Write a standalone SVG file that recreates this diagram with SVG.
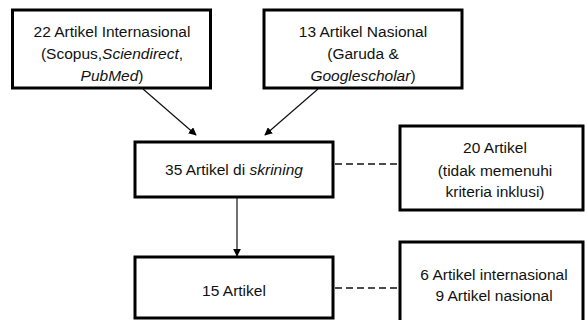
<svg xmlns="http://www.w3.org/2000/svg" width="585" height="320" viewBox="0 0 585 320">
<style>
.box{fill:#fff;stroke:#000;stroke-width:3}
text{font-family:"Liberation Sans",Arial,sans-serif;font-size:15.5px;fill:#111;text-anchor:middle}
.it{font-style:italic}
.ln{stroke:#111;stroke-width:1.2;fill:none}
.ds{stroke:#111;stroke-width:1.4;stroke-dasharray:7,4;fill:none}
</style>
<defs>
<marker id="ah" viewBox="0 0 10 10" refX="9" refY="5" markerWidth="8" markerHeight="8" orient="auto" markerUnits="userSpaceOnUse">
<path d="M0,0 L10,5 L0,10 z" fill="#000"/>
</marker>
</defs>
<g id="connectors">
<line class="ln" x1="143" y1="89" x2="196" y2="135" marker-end="url(#ah)"/>
<line class="ln" x1="318" y1="89" x2="265" y2="135" marker-end="url(#ah)"/>
<line class="ln" x1="237" y1="198" x2="237" y2="256" marker-end="url(#ah)"/>
<line class="ds" x1="335" y1="164" x2="400" y2="164"/>
<line class="ds" x1="335" y1="288" x2="400" y2="288"/>
</g>
<g id="n1">
<rect class="box" x="12.5" y="10" width="198" height="78"/>
<text x="112" y="37">22 Artikel Internasional</text>
<text x="112" y="59">(Scopus,<tspan class="it">Sciendirect</tspan>,</text>
<text x="112" y="81"><tspan class="it">PubMed</tspan>)</text>
</g>
<g id="n2">
<rect class="box" x="264" y="10" width="198" height="78"/>
<text x="363" y="37">13 Artikel Nasional</text>
<text x="363" y="59">(Garuda &amp;</text>
<text x="363" y="81"><tspan class="it">Googlescholar</tspan>)</text>
</g>
<g id="n3">
<rect class="box" x="135" y="142" width="198" height="55"/>
<text x="234" y="175"><tspan>35 Artikel di </tspan><tspan class="it">skrining</tspan></text>
</g>
<g id="n4">
<rect class="box" x="400" y="126" width="183" height="84"/>
<text x="495" y="153">20 Artikel</text>
<text x="495" y="176">(tidak memenuhi</text>
<text x="495" y="197">kriteria inklusi)</text>
</g>
<g id="n5">
<rect class="box" x="135" y="257" width="198" height="61"/>
<text x="234" y="296">15 Artikel</text>
</g>
<g id="n6">
<rect class="box" x="400" y="242" width="183" height="90"/>
<text x="494" y="280">6 Artikel internasional</text>
<text x="494" y="301">9 Artikel nasional</text>
</g>
</svg>
